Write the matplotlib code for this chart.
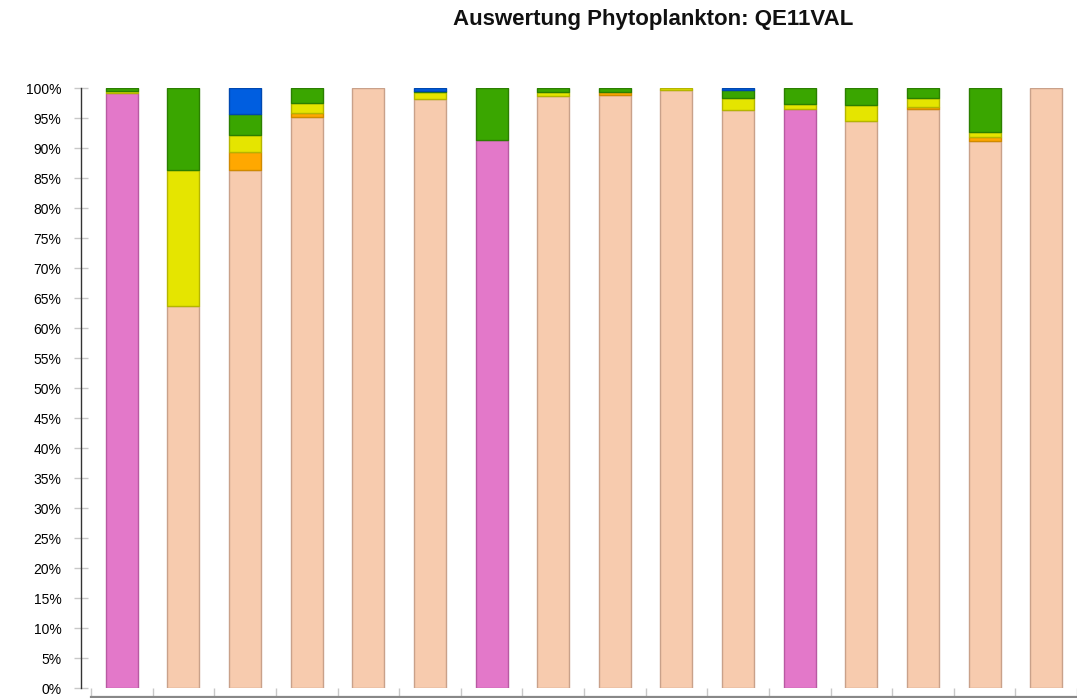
import matplotlib
matplotlib.use("Agg")
import matplotlib.pyplot as plt
import numpy as np

plt.rcParams['font.family'] = ['Liberation Sans', 'DejaVu Sans']

categories = [str(i) for i in range(1, 17)]
# stacked shares (%) bottom -> top
pink   = [99.2, 0,    0,    0,    0,    0,    91.3, 0,    0,    0,    0,    96.5, 0,    0,    0,    0]
salmon = [0,    63.7, 86.4, 95.2, 100,  98.2, 0,    98.7, 98.9, 99.6, 96.3, 0,    94.5, 96.5, 91.1, 100]
orange = [0,    0,    2.9,  0.6,  0,    0,    0,    0,    0.4,  0,    0,    0,    0,    0.3,  0.7,  0]
yellow = [0.3,  22.6, 2.9,  1.7,  0,    1.1,  0,    0.6,  0,    0.4,  2.1,  0.9,  2.7,  1.5,  0.8,  0]
green  = [0.5,  13.7, 3.5,  2.5,  0,    0.2,  8.7,  0.7,  0.7,  0,    1.2,  2.6,  2.8,  1.7,  7.4,  0]
blue   = [0,    0,    4.3,  0,    0,    0.5,  0,    0,    0,    0,    0.4,  0,    0,    0,    0,    0]

series = [
    (pink,   '#e378c9', '#b85aa2'),
    (salmon, '#f7cbae', '#c9a18a'),
    (orange, '#ffa800', '#d08a00'),
    (yellow, '#e5e500', '#b5b500'),
    (green,  '#3aa600', '#2b7f00'),
    (blue,   '#005ee0', '#0048b0'),
]

fig = plt.figure(figsize=(10.77, 6.98), dpi=100)
ax = fig.add_axes([91/1077, 10/698, 1 - 91/1077, 600/698])

x = np.arange(len(categories))
bottom = np.zeros(len(categories))
for vals, fc, ec in series:
    v = np.array(vals, dtype=float)
    m = v > 0
    ax.bar(x[m], v[m], width=0.52, bottom=bottom[m], color=fc, edgecolor=ec, linewidth=1.0, zorder=3)
    bottom += v

ax.set_xlim(-0.5, len(categories) - 0.5)
ax.set_ylim(0, 100)

yt = np.arange(0, 101, 5)
ax.set_yticks(yt)
ax.set_yticklabels([f"{v}%" for v in yt], fontsize=13.5, color='#222222')
ax.tick_params(axis='y', direction='inout', length=10, width=1, color='#c8c8c8', pad=9)

ax.set_xticks(np.arange(-0.5, len(categories), 1.0))
ax.set_xticklabels([])
ax.tick_params(axis='x', direction='in', length=6.5, width=1, color='#c8c8c8')

for s in ['top', 'right']:
    ax.spines[s].set_visible(False)
ax.spines['left'].set_position(('outward', 7.2))
ax.spines['left'].set_color('#333333')
ax.spines['left'].set_linewidth(1.0)
ax.spines['bottom'].set_position(('outward', 6.5))
ax.spines['bottom'].set_color('#888888')
ax.spines['bottom'].set_linewidth(1.6)

fig.text(653/1077, 1 - 20/698, "Auswertung Phytoplankton: QE11VAL",
         ha='center', va='center', fontsize=16, fontweight='bold', color='#111111')

fig.savefig("out.png", dpi=100)
